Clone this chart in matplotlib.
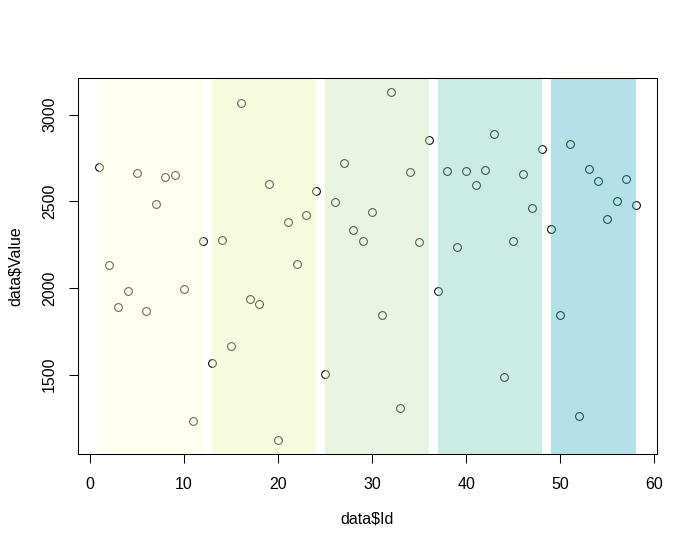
import numpy as np
import matplotlib.pyplot as plt

# values
ids = np.arange(1, 59)
values = [2698, 2133, 1890, 1983, 2663, 1867, 2485, 2640, 2652, 1994,
          1233, 2271, 1567, 2277, 1665, 3067, 1937, 1908, 2600, 1123,
          2381, 2138, 2421, 2560, 1504, 2496, 2721, 2335, 2271, 2438,
          1844, 3131, 1308, 2669, 2265, 2854, 1983, 2675, 2237, 2675,
          2594, 2682, 2888, 1487, 2271, 2658, 2461, 2802, 2340, 1844,
          2831, 1262, 2686, 2617, 2398, 2502, 2629, 2479]

band_start = [1, 13, 25, 37, 49]
band_end = [12, 24, 36, 48, 58]
band_colors = ['#ffffd9', '#edf8b1', '#c7e9b4', '#7fcdbb', '#41b6c4']

xticks = [0, 10, 20, 30, 40, 50, 60]
yticks = [1500, 2000, 2500, 3000]

plt.rcParams['font.family'] = ['Liberation Sans', 'DejaVu Sans']
fs = 11.5

fig = plt.figure(figsize=(6.98, 5.52), dpi=100)
ax = fig.add_axes([78 / 698, 1 - 454 / 552, (657 - 78) / 698, (454 - 78) / 552])

ax.plot(ids, values, 'o', mfc='none', mec='black', ms=5.6, mew=0.75, zorder=2)

# translucent bands drawn over the points, like R's rect()
for x0, x1, c in zip(band_start, band_end, band_colors):
    ax.axvspan(x0, x1, color=c, alpha=0.4, lw=0, zorder=3)

# R style 4% padding
xr = ids.max() - ids.min()
ax.set_xlim(ids.min() - 0.04 * xr, ids.max() + 0.04 * xr)
yr = max(values) - min(values)
ax.set_ylim(min(values) - 0.04 * yr, max(values) + 0.04 * yr)

ax.set_xticks(xticks)
ax.set_yticks(yticks)
ax.set_xticklabels([str(t) for t in xticks], fontsize=fs)
ax.set_yticklabels([str(t) for t in yticks], fontsize=fs, rotation=90, va='center')
ax.tick_params(length=6.5, width=0.75)
ax.tick_params(axis='x', pad=10)
ax.tick_params(axis='y', pad=8.5)

for s in ax.spines.values():
    s.set_linewidth(0.75)
    s.set_zorder(4)

ax.set_xlabel('data$Id', fontsize=fs, labelpad=14)
ax.set_ylabel('data$Value', fontsize=fs, labelpad=14)

fig.savefig('out.png', dpi=100)
